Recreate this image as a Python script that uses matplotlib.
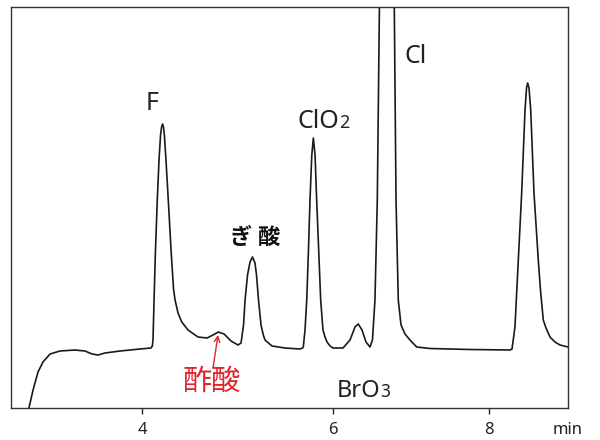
import numpy as np
import matplotlib
matplotlib.use("Agg")
import matplotlib.pyplot as plt

plt.rcParams['font.family'] = ['Noto Sans', 'Noto Sans CJK JP', 'DejaVu Sans']

# Chromatogram trace (time in min, signal in arbitrary units)
time_min = [2.806, 2.859, 2.911, 2.963, 3.037, 3.141, 3.298, 3.403, 3.476, 3.539,
            3.613, 3.770, 3.979, 4.094,
            # F
            4.108, 4.115, 4.126, 4.141, 4.160, 4.178, 4.194, 4.205, 4.215, 4.225,
            4.234, 4.251, 4.275, 4.304, 4.330, 4.346, 4.377, 4.416, 4.482, 4.586,
            4.681,
            # acetic acid
            4.743, 4.799, 4.859, 4.932, 5.005, 5.037,
            # formic acid
            5.063, 5.079, 5.105, 5.131, 5.157, 5.183, 5.199, 5.220, 5.246, 5.270,
            5.288, 5.361, 5.497, 5.654,
            # ClO2
            5.680, 5.689, 5.707, 5.725, 5.743, 5.759, 5.778, 5.794, 5.812, 5.829,
            5.850, 5.871, 5.895, 5.916, 5.937, 5.969, 6.000, 6.128,
            # BrO3
            6.218, 6.282, 6.324, 6.372, 6.423, 6.474, 6.506,
            # Cl (off scale)
            6.538, 6.568, 6.596, 6.667, 6.718, 6.785, 6.808, 6.837, 6.872, 6.923,
            6.987, 7.073, 7.244, 7.756, 8.269, 8.295,
            # last peak
            8.333, 8.376, 8.419, 8.462, 8.481, 8.496, 8.513, 8.535, 8.577, 8.632,
            8.660, 8.696, 8.731, 8.782, 8.846, 8.910, 9.013]
signal = [-63, -41, -23, -13, -5, -2, -1, -2, -5, -6,
          -4, -2, 0, 1,
          3, 9, 49, 99, 149, 189, 214, 222, 225, 222,
          214, 189, 149, 99, 60, 49, 36, 27, 19, 12,
          11,
          14, 17, 15, 8, 4, 6,
          24, 49, 74, 87, 92, 86, 74, 49, 24, 14,
          9, 3, 1, 0,
          1, 2, 19, 49, 99, 149, 194, 211, 194, 149,
          99, 49, 19, 12, 7, 3, 1, 1,
          9, 22, 25, 19, 7, 2, 9,
          49, 149, 349, 649, 649, 349, 149, 49, 24, 15,
          9, 2, 0.5, -0.5, -1, 0,
          22, 89, 156, 239, 261, 266, 261, 239, 156, 89,
          59, 29, 21, 12, 7, 4, 2]

tick_pos = [4, 6, 8]
tick_labels = ["4", "6", "8"]


# the printed time axis is not evenly spaced: 4-6 is wider than 6-8
def fwd(t):
    t = np.asarray(t, dtype=float)
    return np.where(t < 6, (t - 6) * 95.5, (t - 6) * 78.0)


def inv(u):
    u = np.asarray(u, dtype=float)
    return np.where(u < 0, u / 95.5 + 6, u / 78.0 + 6)


fig = plt.figure(figsize=(6, 4.4), dpi=100)
ax = fig.add_axes([11 / 600, 32 / 440, 557 / 600, 401 / 440])
ax.set_xscale('function', functions=(fwd, inv))

ax.plot(time_min, signal, color='#1a1a1a', lw=1.2, solid_joinstyle='round')

ax.set_xlim(2.628, 9.013)
ax.set_ylim(-59, 342)
ax.set_xticks(tick_pos)
ax.set_xticklabels(tick_labels)
ax.set_yticks([])
ax.xaxis.set_minor_locator(matplotlib.ticker.NullLocator())
ax.tick_params(axis='x', direction='out', length=4, width=1, pad=6,
               labelsize=12, colors='#222222')
for s in ax.spines.values():
    s.set_linewidth(1.0)
    s.set_color('#333333')

# peak labels
ax.text(4.105, 246, "F", ha='center', va='center', fontsize=18, color='#222222')
ax.text(5.183, 111, "ぎ 酸", ha='center', va='center', fontsize=16,
        fontweight='bold', color='#111111')
ax.text(6.077, 221, "ClO", ha='right', va='baseline', fontsize=18, color='#222222')
ax.text(6.082, 221, "2", ha='left', va='baseline', fontsize=13, color='#222222')
ax.text(6.923, 286, "Cl", ha='left', va='baseline', fontsize=18, color='#222222')
ax.text(6.603, -48, "BrO", ha='right', va='baseline', fontsize=17, color='#222222')
ax.text(6.610, -48, "3", ha='left', va='baseline', fontsize=12.5, color='#222222')

ax.text(4.733, -33, "酢酸", ha='center', va='center', fontsize=21, color='#e3242b')
ax.annotate("", xy=(4.796, 14), xytext=(4.743, -19),
            arrowprops=dict(arrowstyle='->', color='#e3242b', lw=1.0,
                            shrinkA=0, shrinkB=0))

fig.text(568 / 600, 1 - 430 / 440, "min", ha='center', va='center',
         fontsize=12, color='#222222')

fig.savefig("out.png", dpi=100)
